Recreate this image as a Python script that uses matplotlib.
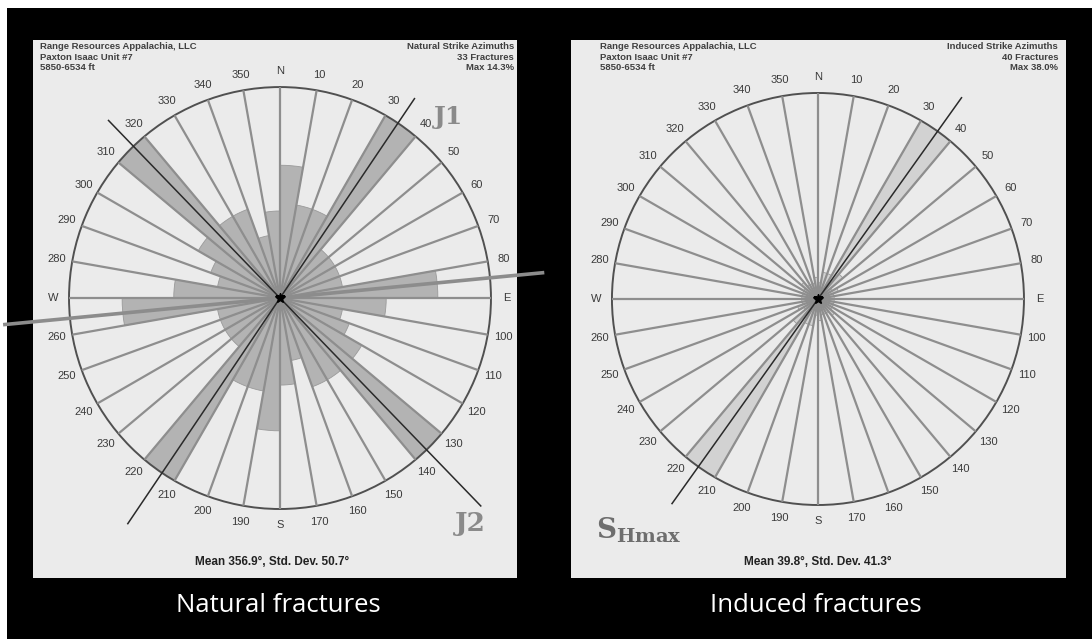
import numpy as np
import matplotlib.pyplot as plt
from matplotlib.patches import Rectangle

# strike azimuth bins, 10 deg wide (0-180, the other half is the mirror)
bin_starts = [0, 10, 20, 30, 40, 50, 60, 70, 80, 90, 100, 110, 120, 130, 140, 150, 160, 170]
natural_pct = [9.0, 6.4, 6.4, 14.3, 4.3, 4.3, 4.3, 4.3, 10.7, 7.2, 4.3, 5.0, 6.4, 14.3, 6.4, 6.4, 4.3, 5.9]
induced_pct = [3.0, 5.0, 5.0, 38.0, 6.0, 3.0, 4.0, 3.0, 3.0, 3.0, 3.0, 3.0, 3.0, 4.0, 3.0, 3.0, 3.0, 4.0]

natural_max = 14.3
induced_max = 38.0

tick_angles = list(range(0, 360, 10))
compass = {0: 'N', 90: 'E', 180: 'S', 270: 'W'}
tick_labels = [compass.get(a, str(a)) for a in tick_angles]

# overlay line azimuths (deg)
j1_azimuth = 34
j2_azimuth = 136
trend_azimuth = 84.5
shmax_azimuth = 35.5

header_left = "Range Resources Appalachia, LLC\nPaxton Isaac Unit #7\n5850-6534 ft"

panel_color = '#ebebeb'
spoke_color = '#8e8e8e'

fig = plt.figure(figsize=(10.92, 6.39), dpi=100)
fig.patch.set_facecolor('black')

# thin white margin of the scan (top and left)
fig.add_artist(Rectangle((0, 1 - 8 / 639), 1, 8 / 639, transform=fig.transFigure,
                         facecolor='white', edgecolor='none', zorder=-5))
fig.add_artist(Rectangle((0, 0), 7 / 1092, 1, transform=fig.transFigure,
                         facecolor='white', edgecolor='none', zorder=-5))

# light panels
for x0, w in [(33 / 1092, 484 / 1092), (571 / 1092, 495 / 1092)]:
    fig.add_artist(Rectangle((x0, 61 / 639), w, 538 / 639, transform=fig.transFigure,
                             facecolor=panel_color, edgecolor='none', zorder=-4))


def draw_rose(ax, pct, rmax, color):
    ax.set_theta_zero_location('N')
    ax.set_theta_direction(-1)
    thetas = [np.deg2rad(b + 5) for b in bin_starts] + [np.deg2rad(b + 185) for b in bin_starts]
    values = list(pct) + list(pct)
    ax.bar(thetas, values, width=np.deg2rad(10), color=color,
           edgecolor='#9a9a9a', linewidth=0.6, zorder=1)
    ax.set_rlim(0, rmax)
    ax.set_yticks([])
    ax.set_thetagrids(tick_angles, tick_labels, fontsize=8, color='#3a3a3a',
                      family='Liberation Sans')
    ax.tick_params(axis='x', pad=1)
    ax.set_axisbelow(False)
    ax.xaxis.grid(True, color=spoke_color, linewidth=1.6)
    ax.spines['polar'].set_color('#505050')
    ax.spines['polar'].set_linewidth(1.4)
    ax.patch.set_alpha(0)
    ax.plot([0], [0], marker='*', color='black', markersize=7, zorder=5)


def draw_axis_line(ax, az, r1, r2, color, lw):
    t = np.deg2rad(az)
    ax.plot([t, t], [0, r1], color=color, lw=lw, clip_on=False, zorder=4)
    ax.plot([t + np.pi, t + np.pi], [0, r2], color=color, lw=lw, clip_on=False, zorder=4)


# natural fractures
ax1 = fig.add_axes([0.0632, 0.2034, 0.3864, 0.6604], projection='polar')
draw_rose(ax1, natural_pct, natural_max, '#b3b3b3')
draw_axis_line(ax1, trend_azimuth, 1.25 * natural_max, 1.31 * natural_max, '#8c8c8c', 2.6)
draw_axis_line(ax1, j1_azimuth, 1.14 * natural_max, 1.29 * natural_max, '#2a2a2a', 1.1)
draw_axis_line(ax1, j2_azimuth, 1.37 * natural_max, 1.17 * natural_max, '#2a2a2a', 1.1)

# induced fractures
ax2 = fig.add_axes([0.5604, 0.2097, 0.3773, 0.6448], projection='polar')
draw_rose(ax2, induced_pct, induced_max, '#d2d2d2')
draw_axis_line(ax2, shmax_azimuth, 1.2 * induced_max, 1.22 * induced_max, '#2a2a2a', 1.1)

# headers
fig.text(40 / 1092, 1 - 42 / 639, header_left, fontsize=6.8, fontweight='bold',
         color='#404040', va='top', ha='left', family='Liberation Sans', linespacing=1.25)
fig.text(600 / 1092, 1 - 42 / 639, header_left, fontsize=6.8, fontweight='bold',
         color='#404040', va='top', ha='left', family='Liberation Sans', linespacing=1.25)
fig.text(514 / 1092, 1 - 42 / 639, "Natural Strike Azimuths\n33 Fractures\nMax 14.3%",
         fontsize=6.8, fontweight='bold', color='#404040', va='top', ha='right',
         family='Liberation Sans', linespacing=1.25)
fig.text(1058 / 1092, 1 - 42 / 639, "Induced Strike Azimuths\n40 Fractures\nMax 38.0%",
         fontsize=6.8, fontweight='bold', color='#404040', va='top', ha='right',
         family='Liberation Sans', linespacing=1.25)

# statistics
fig.text(272 / 1092, 1 - 562 / 639, "Mean 356.9°, Std. Dev. 50.7°", fontsize=8.5,
         fontweight='bold', color='#222222', ha='center', va='center', family='Liberation Sans')
fig.text(818 / 1092, 1 - 562 / 639, "Mean 39.8°, Std. Dev. 41.3°", fontsize=8.5,
         fontweight='bold', color='#222222', ha='center', va='center', family='Liberation Sans')

# annotation labels
fig.text(449 / 1092, 1 - 117 / 639, "J1", fontsize=18, fontweight='bold', color='#8a8a8a',
         ha='center', va='center', family='DejaVu Serif')
fig.text(470 / 1092, 1 - 523 / 639, "J2", fontsize=19, fontweight='bold', color='#8a8a8a',
         ha='center', va='center', family='DejaVu Serif')
fig.text(596 / 1092, 1 - 530 / 639, r"S$_\mathregular{Hmax}$", fontsize=20, fontweight='bold',
         color='#6e6e6e', ha='left', va='center', family='DejaVu Serif')

# captions
fig.text(278 / 1092, 1 - 605 / 639, "Natural fractures", fontsize=18.5, color='white',
         ha='center', va='center', family='Open Sans')
fig.text(816 / 1092, 1 - 605 / 639, "Induced fractures", fontsize=18.5, color='white',
         ha='center', va='center', family='Open Sans')

fig.savefig('out.png', dpi=100, facecolor=fig.get_facecolor())
